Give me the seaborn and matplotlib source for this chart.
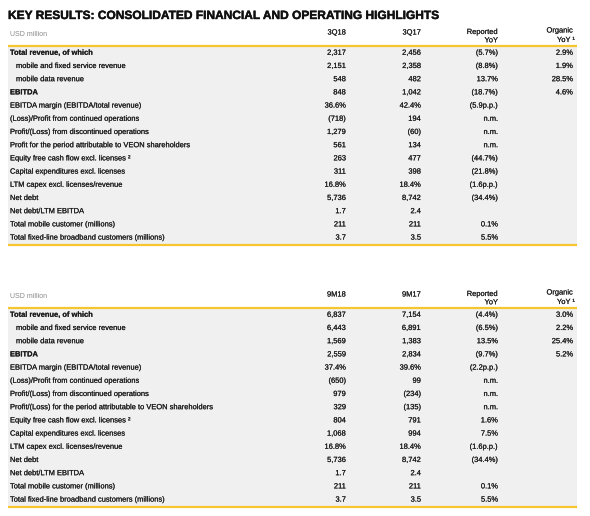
import matplotlib
matplotlib.use("Agg")
import matplotlib.pyplot as plt
import matplotlib.patheffects as pe
import seaborn as sns

sns.set_theme(style="white")
plt.rcParams['font.family'] = ['Liberation Sans', 'DejaVu Sans']

title = "KEY RESULTS: CONSOLIDATED FINANCIAL AND OPERATING HIGHLIGHTS"

row_labels = [
    "Total revenue, of which",
    "mobile and fixed service revenue",
    "mobile data revenue",
    "EBITDA",
    "EBITDA margin (EBITDA/total revenue)",
    "(Loss)/Profit from continued operations",
    "Profit/(Loss) from discontinued operations",
    "Profit for the period attributable to VEON shareholders",
    "Equity free cash flow excl. licenses \u00b2",
    "Capital expenditures excl. licenses",
    "LTM capex excl. licenses/revenue",
    "Net debt",
    "Net debt/LTM EBITDA",
    "Total mobile customer (millions)",
    "Total fixed-line broadband customers (millions)",
]
row_labels_9m = list(row_labels)
row_labels_9m[7] = "Profit/(Loss) for the period attributable to VEON shareholders"
bold_rows = [0, 3]
indent_rows = [1, 2]

# quarter table
cols_3q = ["3Q18", "3Q17"]
q3_18 = ["2,317", "2,151", "548", "848", "36.6%", "(718)", "1,279", "561",
         "263", "311", "16.8%", "5,736", "1.7", "211", "3.7"]
q3_17 = ["2,456", "2,358", "482", "1,042", "42.4%", "194", "(60)", "134",
         "477", "398", "18.4%", "8,742", "2.4", "211", "3.5"]
q3_rep = ["(5.7%)", "(8.8%)", "13.7%", "(18.7%)", "(5.9p.p.)", "n.m.", "n.m.", "n.m.",
          "(44.7%)", "(21.8%)", "(1.6p.p.)", "(34.4%)", "", "0.1%", "5.5%"]
q3_org = ["2.9%", "1.9%", "28.5%", "4.6%", "", "", "", "",
          "", "", "", "", "", "", ""]

# nine months table
cols_9m = ["9M18", "9M17"]
m9_18 = ["6,837", "6,443", "1,569", "2,559", "37.4%", "(650)", "979", "329",
         "804", "1,068", "16.8%", "5,736", "1.7", "211", "3.7"]
m9_17 = ["7,154", "6,891", "1,383", "2,834", "39.6%", "99", "(234)", "(135)",
         "791", "994", "18.4%", "8,742", "2.4", "211", "3.5"]
m9_rep = ["(4.4%)", "(6.5%)", "13.5%", "(9.7%)", "(2.2p.p.)", "n.m.", "n.m.", "n.m.",
          "1.6%", "7.5%", "(1.6p.p.)", "(34.4%)", "", "0.1%", "5.5%"]
m9_org = ["3.0%", "2.2%", "25.4%", "5.2%", "", "", "", "",
          "", "", "", "", "", "", ""]

gold = "#f6c530"
band = "#f0f0f0"
txt = "#1e1e1e"
fs = 5.4
thick = [pe.withStroke(linewidth=0.1, foreground=txt)]

fig = plt.figure(figsize=(5.9, 5.16), dpi=100)
ax = fig.add_axes([0, 0, 1, 1])
ax.set_xlim(0, 590)
ax.set_ylim(516, 0)
ax.axis("off")

ax.text(8, 16, title, fontsize=8.6, fontweight="bold", color="#111111",
        va="center", ha="left", path_effects=[pe.withStroke(linewidth=0.3, foreground="#111111")])

col_x = [346, 421, 498, 573]
step = 13.2


def draw_table(top, labels, cols, v1, v2, rep, org):
    # header
    ax.text(10, top + 7, "USD million", fontsize=5.0, color="#8a8a8a", va="center")
    hd = dict(fontsize=fs, color="#222222", ha="right", va="center", path_effects=thick)
    ax.text(col_x[0], top + 6, cols[0], **hd)
    ax.text(col_x[1], top + 6, cols[1], **hd)
    ax.text(col_x[2], top + 5.5, "Reported", **hd)
    ax.text(col_x[2], top + 13.8, "YoY", **hd)
    ax.text(col_x[3], top + 4, "Organic", **hd)
    ax.text(col_x[3] + 2, top + 13.5, "YoY \u00b9", **hd)

    line_y = top + 19
    first = line_y + 7.3
    n = len(labels)
    bottom = first + (n - 1) * step + 6.5
    ax.axhspan(line_y, bottom, xmin=8 / 590, xmax=577 / 590, color=band, lw=0, zorder=0)
    ax.hlines([line_y, bottom], 8, 577, colors=gold, lw=1.6, zorder=3)

    for i, lab in enumerate(labels):
        y = first + i * step
        x0 = 16 if i in indent_rows else 10
        w = "bold" if i in bold_rows else "normal"
        ax.text(x0, y, lab, fontsize=fs, fontweight=w, color=txt, va="center",
                path_effects=thick)
        for cx, vals in zip(col_x, [v1, v2, rep, org]):
            if vals[i]:
                ax.text(cx, y, vals[i], fontsize=fs, color=txt, ha="right", va="center",
                        path_effects=thick)


draw_table(27, row_labels, cols_3q, q3_18, q3_17, q3_rep, q3_org)
draw_table(289, row_labels_9m, cols_9m, m9_18, m9_17, m9_rep, m9_org)

fig.savefig("out.png", dpi=100)
